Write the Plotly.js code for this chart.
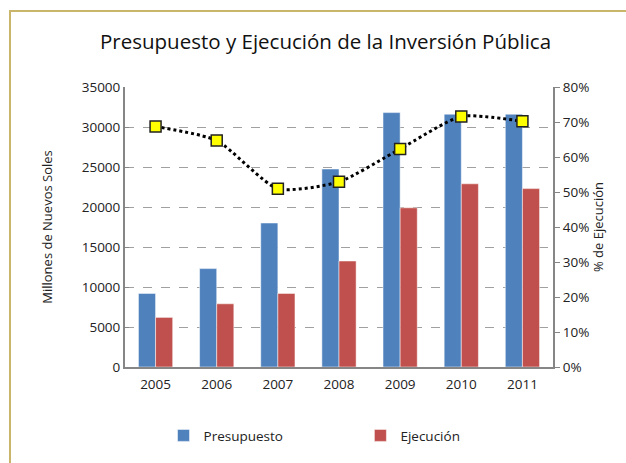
<!DOCTYPE html>
<html>
<head>
<meta charset="utf-8">
<script src="https://cdn.plot.ly/plotly-3.0.1.min.js"></script>
<style>
  body { margin: 0; background: #fff; }
  #frame { position: absolute; left: 9px; top: 10px; width: 640px; height: 480px;
           border-top: 2px solid #c9b66b; border-left: 2px solid #c9b66b; }
  #chart { position: absolute; left: 0; top: 0; width: 626px; height: 463px; }
</style>
</head>
<body>
<div id="frame"></div>
<div id="chart"></div>
<script>
// years on the x axis
const years = ['2005', '2006', '2007', '2008', '2009', '2010', '2011'];
// millions of nuevos soles
const presupuesto = [9200, 12300, 18000, 24750, 31800, 31600, 31600];
const ejecucion = [6200, 7900, 9200, 13250, 19900, 22900, 22300];
// execution ratio (right axis)
const pctEjec = [0.687, 0.647, 0.509, 0.529, 0.623, 0.716, 0.702];

const fontTxt = 'Open Sans, sans-serif';

var tracePres = {
  x: years, y: presupuesto, name: 'Presupuesto', type: 'bar', legend: 'legend',
  marker: { color: '#4f81bd', line: { color: '#ffffff', width: 0.5 } }
};
var traceEjec = {
  x: years, y: ejecucion, name: 'Ejecución', type: 'bar', legend: 'legend2',
  marker: { color: '#c0504d', line: { color: '#ffffff', width: 0.5 } }
};
var tracePct = {
  x: years, y: pctEjec, name: '% Ejecución', yaxis: 'y2',
  type: 'scatter', mode: 'lines+markers', showlegend: false,
  line: { color: '#000', width: 3, dash: 'dot', shape: 'spline', smoothing: 0.6 },
  marker: { symbol: 'square', size: 11, color: '#ffff00', line: { color: '#222', width: 1.5 } }
};

var layout = {
  width: 626, height: 463,
  paper_bgcolor: 'rgba(0,0,0,0)', plot_bgcolor: 'rgba(0,0,0,0)',
  margin: { l: 125, r: 73, t: 87, b: 96 },
  font: { family: fontTxt, size: 13.5, color: '#222' },
  title: {
    text: 'Presupuesto y Ejecución de la Inversión Pública',
    font: { family: fontTxt, size: 20.5, color: '#111' },
    x: 0.52, xanchor: 'center', y: 0.91, yanchor: 'middle'
  },
  barmode: 'group', bargap: 0.44, bargroupgap: 0,
  xaxis: {
    type: 'category',
    showline: true, linecolor: '#868686', linewidth: 2,
    ticks: '', showgrid: false, ticklabelstandoff: 4
  },
  yaxis: {
    range: [0, 35000], dtick: 5000, tickformat: 'd',
    showline: true, linecolor: '#868686', linewidth: 2,
    ticks: 'inside', ticklen: 4, tickcolor: '#868686',
    showgrid: true, gridcolor: '#a0a0a0', griddash: 'dash', gridwidth: 1,
    zeroline: false,
    title: { text: 'Millones de Nuevos Soles', font: { size: 13 }, standoff: 26 }
  },
  yaxis2: {
    overlaying: 'y', side: 'right', range: [0, 0.8], dtick: 0.1, tickformat: '.0%',
    showline: true, linecolor: '#868686', linewidth: 2,
    ticks: 'outside', ticklen: 5, tickcolor: '#868686',
    showgrid: false, zeroline: false,
    title: { text: '% de Ejecución', font: { size: 13 }, standoff: 4 }
  },
  legend: {
    orientation: 'h', x: 0.09, xanchor: 'left', y: -0.245, yanchor: 'middle',
    itemwidth: 12, font: { size: 13.5 }
  },
  legend2: {
    orientation: 'h', x: 0.55, xanchor: 'left', y: -0.245, yanchor: 'middle',
    itemwidth: 12, font: { size: 13.5 }
  }
};

Plotly.newPlot('chart', [tracePres, traceEjec, tracePct], layout, { displayModeBar: false });
</script>
</body>
</html>
